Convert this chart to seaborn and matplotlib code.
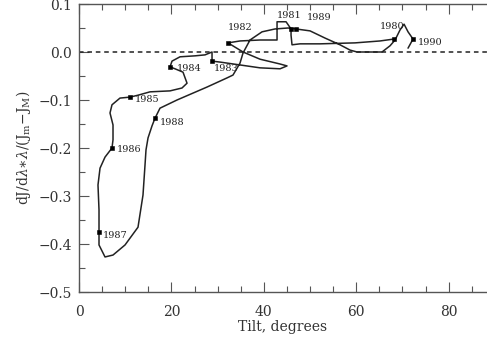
import matplotlib
matplotlib.use("Agg")
import matplotlib.pyplot as plt
from matplotlib.ticker import MultipleLocator
import seaborn as sns
import pandas as pd

# ---- data ----
tilt = [68.18, 65.15, 59.74, 52.16, 47.84, 46.10, 45.89, 45.89, 44.81, 42.86,
        42.86, 42.86, 39.18, 34.85, 32.25, 35.50, 39.18, 43.51, 45.02, 43.51,
        39.18, 34.85, 30.52, 28.79, 28.79, 27.27, 25.11, 21.86, 20.13, 19.70,
        20.78, 22.51, 23.38, 22.29, 19.70, 15.37, 12.77, 11.04, 8.87, 7.14,
        6.71, 7.36, 7.36, 7.14, 5.63, 4.55, 4.11, 4.33, 4.33, 4.33,
        5.63, 7.36, 9.96, 12.77, 13.85, 14.29, 14.50, 14.94, 15.80, 16.45,
        17.53, 21.21, 27.71, 32.03, 33.33, 34.85, 35.50, 37.01, 39.61, 42.42,
        45.24, 46.97, 50.00, 53.25, 56.49, 58.66, 60.17, 62.99, 65.58, 67.32,
        68.40, 69.48, 70.35, 71.21, 72.29, 71.21]
ratio = [0.027, 0.023, 0.019, 0.017, 0.017, 0.015, 0.035, 0.048, 0.063, 0.063,
         0.046, 0.025, 0.025, 0.023, 0.019, 0.000, -0.015, -0.025, -0.029, -0.035,
         -0.033, -0.027, -0.021, -0.019, 0.000, -0.006, -0.008, -0.010, -0.019, -0.031,
         -0.035, -0.042, -0.065, -0.075, -0.081, -0.083, -0.090, -0.094, -0.096, -0.110,
         -0.127, -0.152, -0.183, -0.200, -0.219, -0.242, -0.277, -0.329, -0.375, -0.402,
         -0.427, -0.423, -0.402, -0.365, -0.298, -0.235, -0.204, -0.179, -0.154, -0.138,
         -0.117, -0.100, -0.073, -0.054, -0.048, -0.023, -0.002, 0.025, 0.042, 0.048,
         0.050, 0.048, 0.044, 0.029, 0.015, 0.004, 0.000, 0.000, 0.000, 0.013,
         0.025, 0.046, 0.058, 0.042, 0.027, 0.008]

years = ["1980", "1981", "1982", "1983", "1984", "1985", "1986", "1987", "1988", "1989", "1990"]
year_tilt = [68.18, 45.89, 32.25, 28.79, 19.70, 11.04, 7.14, 4.33, 16.45, 46.97, 72.29]
year_ratio = [0.027, 0.048, 0.019, -0.019, -0.031, -0.094, -0.200, -0.375, -0.138, 0.048, 0.027]

x_ticks = [0, 20, 40, 60, 80]
y_ticks = [-0.5, -0.4, -0.3, -0.2, -0.1, 0.0, 0.1]

# ---- styling / layout (not data) ----
label_offsets_px = {
    "1980": (-14, 13), "1981": (-14, 13), "1982": (0, 15), "1983": (2, -7),
    "1984": (7, -2), "1985": (5, -2), "1986": (5, -2), "1987": (4, -3),
    "1988": (5, -4), "1989": (11, 11), "1990": (5, -3),
}

sns.set_style("ticks")
plt.rcParams["font.family"] = ["DejaVu Serif"]
plt.rcParams["mathtext.fontset"] = "dejavuserif"

fig = plt.figure(figsize=(4.87, 3.39), dpi=100)
ax = fig.add_axes([79 / 487, 47 / 339, 408 / 487, 288 / 339])

path_df = pd.DataFrame({"tilt": tilt, "ratio": ratio, "order": range(len(tilt))})
sns.lineplot(data=path_df, x="tilt", y="ratio", sort=False, estimator=None,
             color="#222222", linewidth=1.1, ax=ax)

yr_df = pd.DataFrame({"tilt": year_tilt, "ratio": year_ratio, "year": years})
sns.scatterplot(data=yr_df, x="tilt", y="ratio", marker="s", s=9,
                color="black", edgecolor="black", linewidth=0.4, ax=ax, zorder=3)

for yr, xt, yv in zip(years, year_tilt, year_ratio):
    dx, dy = label_offsets_px[yr]
    ax.annotate(yr, (xt, yv), xytext=(dx, dy), textcoords="offset pixels",
                ha="left", va="center", fontsize=7, color="#222222")

ax.axhline(0.0, color="#222222", linestyle=(0, (3, 2.5)), linewidth=1.1)

ax.set_xlim(0, 88.3)
ax.set_ylim(-0.5, 0.1)
ax.set_xticks(x_ticks)
ax.set_yticks(y_ticks)
ax.set_xticklabels([str(v) for v in x_ticks])
ax.set_yticklabels(["\u22120.5", "\u22120.4", "\u22120.3", "\u22120.2", "\u22120.1", "0.0", "0.1"])
ax.xaxis.set_minor_locator(MultipleLocator(5))
ax.yaxis.set_minor_locator(MultipleLocator(0.05))
ax.tick_params(axis="both", which="both", direction="in", top=True, right=False,
               colors="#555555", labelcolor="#333333", width=0.8)
ax.tick_params(axis="both", which="major", length=7, labelsize=10)
ax.tick_params(axis="both", which="minor", length=4)
ax.tick_params(axis="x", which="major", pad=9)
ax.tick_params(axis="y", which="major", pad=5)

for side in ["left", "bottom", "top"]:
    ax.spines[side].set_visible(True)
    ax.spines[side].set_color("#555555")
    ax.spines[side].set_linewidth(1.0)
ax.spines["right"].set_visible(False)

ax.set_xlabel("Tilt, degrees", fontsize=10, color="#333333", labelpad=1)
ax.set_ylabel(r"dJ/d$\lambda$$\ast$$\lambda$/(J$_{\rm m}$$-$J$_{\rm M}$)",
              fontsize=10, color="#333333", labelpad=4)

fig.savefig("out.png", dpi=100)
